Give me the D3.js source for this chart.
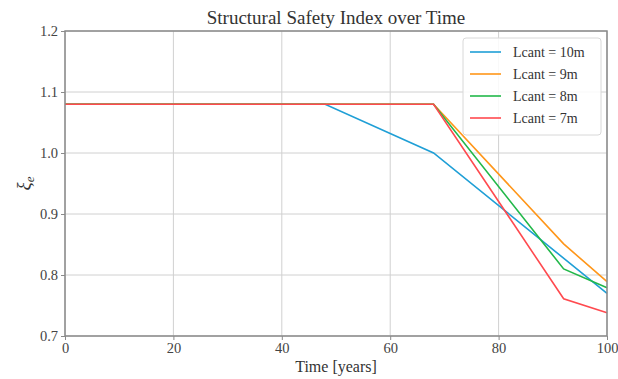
<!DOCTYPE html>
<html><head><meta charset="utf-8">
<script src="https://cdn.jsdelivr.net/npm/d3@7"></script>
<style>body{margin:0;background:#fff}svg{display:block}</style>
</head><body>
<svg id="c" width="618" height="379"></svg>
<script>
const seriesNames = ["Lcant = 10m","Lcant = 9m","Lcant = 8m","Lcant = 7m"];
const colors = ["#1f9fd6","#ff9619","#22b84a","#ff4a4f"];
const s10 = [[0,1.08],[48,1.08],[68,1.00],[100,0.77]];
const s9  = [[0,1.08],[68,1.08],[92,0.851],[100,0.789]];
const s8  = [[0,1.08],[68,1.08],[92,0.81],[100,0.779]];
const s7  = [[0,1.08],[68,1.08],[92,0.761],[100,0.738]];
const series = [s10,s9,s8,s7];
const xTicks = [0,20,40,60,80,100];
const yTicks = [0.7,0.8,0.9,1.0,1.1,1.2];

const svg = d3.select("#c");
const L=65,R=607,T=31,B=336;
const x = d3.scaleLinear().domain([0,100]).range([L,R]);
const y = d3.scaleLinear().domain([0.7,1.2]).range([B,T]);
const font = "'Liberation Serif','Times New Roman',serif";

// grid
svg.append("g").selectAll("line").data(xTicks).join("line")
  .attr("x1",d=>x(d)).attr("x2",d=>x(d)).attr("y1",T).attr("y2",B)
  .attr("stroke","#d0d0d0").attr("stroke-width",1);
svg.append("g").selectAll("line").data(yTicks).join("line")
  .attr("y1",d=>y(d)).attr("y2",d=>y(d)).attr("x1",L).attr("x2",R)
  .attr("stroke","#d0d0d0").attr("stroke-width",1);

// lines
const line = d3.line().x(d=>x(d[0])).y(d=>y(d[1]));
series.forEach((s,i)=>{
  svg.append("path").datum(s).attr("d",line).attr("fill","none")
    .attr("stroke",colors[i]).attr("stroke-width",1.6);
});

// frame
svg.append("rect").attr("x",L).attr("y",T).attr("width",R-L).attr("height",B-T)
  .attr("fill","none").attr("stroke","#8a8a8a").attr("stroke-width",1.5);

// axes
const xa = svg.append("g").attr("transform",`translate(0,${B})`)
  .call(d3.axisBottom(x).tickValues(xTicks).tickSize(4).tickPadding(3).tickFormat(d3.format("d")));
const ya = svg.append("g").attr("transform",`translate(${L},0)`)
  .call(d3.axisLeft(y).tickValues(yTicks).tickSize(4).tickPadding(3).tickFormat(d3.format(".1f")));
[xa,ya].forEach(a=>{
  a.select(".domain").remove();
  a.selectAll(".tick line").attr("stroke","#8a8a8a");
  a.selectAll(".tick text").attr("font-family",font).attr("font-size",14.5).attr("fill","#444");
});

// title & labels
svg.append("text").attr("x",(L+R)/2).attr("y",24).attr("text-anchor","middle")
  .attr("font-family",font).attr("font-size",19).attr("fill","#333").text("Structural Safety Index over Time");
svg.append("text").attr("x",(L+R)/2).attr("y",372).attr("text-anchor","middle")
  .attr("font-family",font).attr("font-size",16).attr("fill","#333").text("Time [years]");
const yl = svg.append("text").attr("transform",`translate(30,${(T+B)/2}) rotate(-90)`)
  .attr("text-anchor","middle").attr("font-family",font).attr("font-size",19).attr("fill","#333");
yl.append("tspan").attr("font-style","italic").text("ξ");
yl.append("tspan").attr("font-style","italic").attr("font-size",13).attr("dy",4).text("e");

// legend
const lg = svg.append("g");
lg.append("rect").attr("x",463).attr("y",38).attr("width",138).attr("height",97).attr("rx",3)
  .attr("fill","#fff").attr("fill-opacity",0.85).attr("stroke","#d8d8d8");
seriesNames.forEach((n,i)=>{
  const yy = 52 + i*22;
  lg.append("line").attr("x1",470).attr("x2",501).attr("y1",yy).attr("y2",yy)
    .attr("stroke",colors[i]).attr("stroke-width",1.6);
  lg.append("text").attr("x",513).attr("y",yy+5).attr("font-family",font).attr("font-size",14)
    .attr("fill","#333").text(n);
});
</script>
</body></html>
